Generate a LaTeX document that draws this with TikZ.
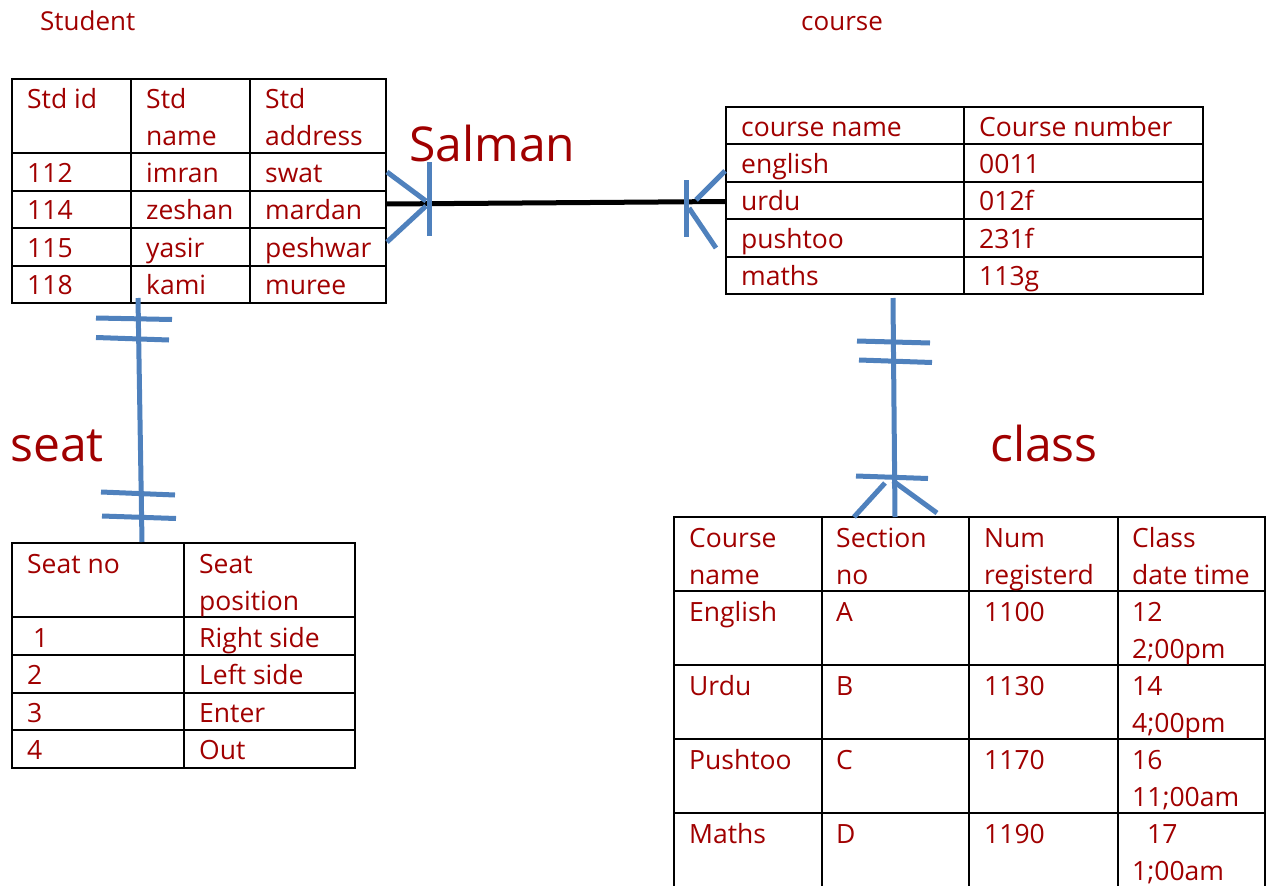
\documentclass[tikz,border=0pt]{standalone}
\usepackage{fontspec}
\setmainfont{Open Sans}
\definecolor{txt}{RGB}{160,0,0}
\definecolor{conn}{RGB}{79,129,189}
\begin{document}
\begin{tikzpicture}[x=1pt,y=-1pt,
  grid/.style={line width=2pt, black},
  cell/.style={anchor=base west, inner sep=0pt, yshift=-1pt, text=txt, font=\fontsize{26.5}{37}\selectfont},
  ttl/.style={anchor=base west, inner sep=0pt, text=txt, font=\fontsize{26}{30}\selectfont},
  big/.style={anchor=base west, inner sep=0pt, text=txt, font=\fontsize{48}{56}\selectfont},
  rel/.style={line width=5pt, conn},
  link/.style={line width=5pt, black}]
\useasboundingbox (0,0) rectangle (1270,886);

% ---------- titles ----------
\node[ttl] (tStudent) at (40,30.7) {Student};
\node[ttl] (tCourse) at (801,30.7) {course};
\node[big] (lSalman) at (409,161) {Salman};
\node[big] (lSeat) at (10,461) {seat};
\node[big] (lClass) at (990,461) {class};

% ---------- Student table ----------
\draw[grid] (12,79) rectangle (386,303);
\foreach \y in {153,190.5,228,265.5} \draw[grid] (12,\y) -- (386,\y);
\foreach \x in {131,250} \draw[grid] (\x,79) -- (\x,303);
\node[cell] (s01) at (27,107) {Std id};
\node[cell] (s02) at (146,107) {Std};
\node[cell] (s02b) at (146,144) {name};
\node[cell] (s03) at (265,107) {Std};
\node[cell] (s03b) at (265,144) {address};
\node[cell] (s11) at (27,181) {112};
\node[cell] (s12) at (146,181) {imran};
\node[cell] (s13) at (265,181) {swat};
\node[cell] (s21) at (27,218.5) {114};
\node[cell] (s22) at (146,218.5) {zeshan};
\node[cell] (s23) at (265,218.5) {mardan};
\node[cell] (s31) at (27,256) {115};
\node[cell] (s32) at (146,256) {yasir};
\node[cell] (s33) at (265,256) {peshwar};
\node[cell] (s41) at (27,293.5) {118};
\node[cell] (s42) at (146,293.5) {kami};
\node[cell] (s43) at (265,293.5) {muree};

% ---------- Course table ----------
\draw[grid] (726,107) rectangle (1203,294);
\foreach \y in {144,181.5,219,256.5} \draw[grid] (726,\y) -- (1203,\y);
\draw[grid] (964,107) -- (964,294);
\node[cell] (c01) at (741,135) {course name};
\node[cell] (c02) at (979,135) {Course number};
\node[cell] (c11) at (741,172) {english};
\node[cell] (c12) at (979,172) {0011};
\node[cell] (c21) at (741,209.5) {urdu};
\node[cell] (c22) at (979,209.5) {012f};
\node[cell] (c31) at (741,247) {pushtoo};
\node[cell] (c32) at (979,247) {231f};
\node[cell] (c41) at (741,284.5) {maths};
\node[cell] (c42) at (979,284.5) {113g};

% ---------- Seat table ----------
\draw[grid] (12,543) rectangle (355,767.5);
\foreach \y in {617,655,692.5,730} \draw[grid] (12,\y) -- (355,\y);
\draw[grid] (184,543) -- (184,767.5);
\node[cell] (e01) at (27,572.5) {Seat no};
\node[cell] (e02) at (199,572.5) {Seat};
\node[cell] (e02b) at (199,609.5) {position};
\node[cell] (e11) at (33,646) {1};
\node[cell] (e12) at (199,646) {Right side};
\node[cell] (e21) at (27,683.5) {2};
\node[cell] (e22) at (199,683.5) {Left side};
\node[cell] (e31) at (27,721) {3};
\node[cell] (e32) at (199,721) {Enter};
\node[cell] (e41) at (27,758.5) {4};
\node[cell] (e42) at (199,758.5) {Out};

% ---------- Class table ----------
\draw[grid] (674,887) -- (674,517) -- (1265,517) -- (1265,887);
\foreach \y in {591,665,739,813} \draw[grid] (674,\y) -- (1265,\y);
\foreach \x in {822,969,1118} \draw[grid] (\x,517) -- (\x,887);
\node[cell] (k01) at (689,546) {Course};
\node[cell] (k01b) at (689,583) {name};
\node[cell] (k02) at (836,546) {Section};
\node[cell] (k02b) at (836,583) {no};
\node[cell] (k03) at (984,546) {Num};
\node[cell] (k03b) at (984,583) {registerd};
\node[cell] (k04) at (1132,546) {Class};
\node[cell] (k04b) at (1132,583) {date time};
\node[cell] (k11) at (689,620) {English};
\node[cell] (k12) at (836,620) {A};
\node[cell] (k13) at (984,620) {1100};
\node[cell] (k14) at (1132,620) {12};
\node[cell] (k14b) at (1132,657) {2;00pm};
\node[cell] (k21) at (689,694) {Urdu};
\node[cell] (k22) at (836,694) {B};
\node[cell] (k23) at (984,694) {1130};
\node[cell] (k24) at (1132,694) {14};
\node[cell] (k24b) at (1132,731) {4;00pm};
\node[cell] (k31) at (689,768) {Pushtoo};
\node[cell] (k32) at (836,768) {C};
\node[cell] (k33) at (984,768) {1170};
\node[cell] (k34) at (1132,768) {16};
\node[cell] (k34b) at (1132,805) {11;00am};
\node[cell] (k41) at (689,842) {Maths};
\node[cell] (k42) at (836,842) {D};
\node[cell] (k43) at (984,842) {1190};
\node[cell] (k44) at (1147,842) {17};
\node[cell] (k44b) at (1132,879) {1;00am};

% ---------- connector coordinates ----------
\coordinate (stdR) at (386,204);
\coordinate (crsL) at (726,201.5);
\coordinate (stdB) at (138,298);
\coordinate (seatT) at (142,542);
\coordinate (crsB) at (893,298);
\coordinate (clsT) at (895,517);

% Student -- Course (many to many)
\draw[link] (stdR) -- (crsL);
\draw[rel] (429,162) -- (429,236);
\draw[rel] (387,172) -- (426,201);
\draw[rel] (387,242) -- (426,206);
\draw[rel] (686,180) -- (686,237);
\draw[rel] (725,171) -- (696,200);
\draw[rel] (689,208) -- (716,248);

% Student -- Seat (one to one)
\draw[rel] (stdB) -- (seatT);
\draw[rel] (96,318) -- (172,319.5);
\draw[rel] (96,337.5) -- (169,340);
\draw[rel] (101,492) -- (175,495);
\draw[rel] (102,516) -- (176,518.5);

% Course -- Class (one to many)
\draw[rel] (crsB) -- (clsT);
\draw[rel] (857,341) -- (930,343);
\draw[rel] (859,360) -- (932,362.5);
\draw[rel] (856,476) -- (928,478.5);
\draw[rel] (885,483) -- (854,517);
\draw[rel] (893,481) -- (937,513);
\end{tikzpicture}
\end{document}
